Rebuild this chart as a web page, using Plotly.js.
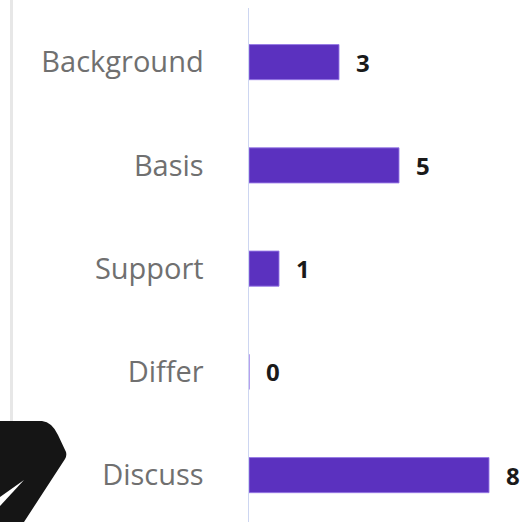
<!DOCTYPE html>
<html>
<head>
<meta charset="utf-8">
<script src="https://cdn.plot.ly/plotly-3.0.1.min.js"></script>
<style>
  html, body { margin: 0; padding: 0; background: #ffffff; }
  #chart { width: 527px; height: 522px; }
</style>
</head>
<body>
<div id="chart"></div>
<script>
// ---- data ----
const categories = ["Background", "Basis", "Support", "Differ", "Discuss"];
const counts = [3, 5, 1, 0, 8];

// ---- layout constants ----
const W = 527, H = 522;
const M = { l: 249, r: 0, t: 8, b: 0 };
const plotW = W - M.l - M.r, plotH = H - M.t - M.b;
const pxPerUnit = 30;
const band = 103.25;
const topOffset = 2.5 / band;

// pixel -> paper helpers for decorative overlay shapes
const px = x => (x - M.l) / plotW;
const py = y => 1 - (y - M.t) / plotH;

const trace = {
  type: "bar",
  orientation: "h",
  y: categories,
  x: counts,
  marker: { color: "#5b31bf", line: { color: "rgba(150,120,230,0.9)", width: 1 } },
  hoverinfo: "none"
};

const annotations = categories.map((c, i) => ({
  x: counts[i], y: c, xref: "x", yref: "y",
  text: String(counts[i]),
  showarrow: false, xanchor: "left", yanchor: "middle", xshift: 15,
  font: { family: "Open Sans, sans-serif", size: 24, color: "#1a1a1a", weight: 700 }
}));

const topIdx = -0.5 - topOffset;
const bottomIdx = topIdx + plotH / band;

const shapes = [
  // faint left rule
  { type: "rect", xref: "paper", yref: "paper", x0: px(10), x1: px(13), y0: py(421), y1: py(0),
    fillcolor: "#e7e7e7", line: { width: 0 }, layer: "above" },
  // black cursor-like overlay
  { type: "path", xref: "paper", yref: "paper", layer: "above",
    path: `M ${px(0)},${py(421)} L ${px(42)},${py(421)} Q ${px(52)},${py(422)} ${px(58)},${py(435)} L ${px(66)},${py(452)} Q ${px(67)},${py(456)} ${px(65)},${py(459)} L ${px(24)},${py(522)} L ${px(0)},${py(522)} Z`,
    fillcolor: "#151515", line: { width: 0 } },
  { type: "path", xref: "paper", yref: "paper", layer: "above",
    path: `M ${px(24)},${py(480)} L ${px(0)},${py(497)} L ${px(0)},${py(506)} Z`,
    fillcolor: "#ffffff", line: { width: 0 } }
];

const layout = {
  width: W, height: H,
  margin: M,
  paper_bgcolor: "#ffffff", plot_bgcolor: "#ffffff",
  showlegend: false,
  bargap: 0.66,
  xaxis: {
    range: [0, plotW / pxPerUnit],
    showgrid: false, zeroline: false, showline: false, showticklabels: false, ticks: ""
  },
  yaxis: {
    type: "category",
    categoryorder: "array", categoryarray: categories,
    range: [bottomIdx, topIdx],
    showgrid: false, zeroline: false,
    showline: true, linecolor: "#cdd6f1", linewidth: 1.5,
    ticks: "outside", ticklen: 38, tickcolor: "rgba(0,0,0,0)",
    tickfont: { family: "Open Sans, sans-serif", size: 29, color: "#707070" }
  },
  annotations: annotations,
  shapes: shapes
};

Plotly.newPlot("chart", [trace], layout, { displayModeBar: false, staticPlot: true });
</script>
</body>
</html>
